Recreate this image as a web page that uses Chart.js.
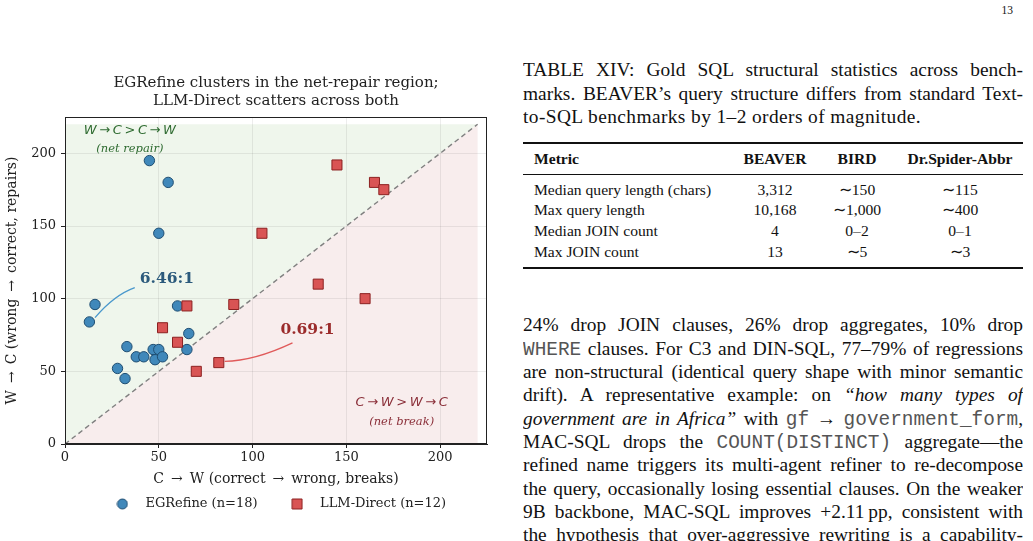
<!DOCTYPE html>
<html>
<head>
<meta charset="utf-8">
<script src="https://cdn.jsdelivr.net/npm/chart.js@4.4.1/dist/chart.umd.min.js"></script>
<style>
  body { margin: 0; width: 1033px; height: 541px; overflow: hidden; background: #fff; position: relative;
         font-family: "Liberation Serif", "Times New Roman", serif; color: #111; }
  #chartBox { position: absolute; left: 0; top: 0; width: 505px; height: 541px; }
  #pg { position: absolute; left: 990px; width: 23px; top: 4px; font-size: 11.5px; text-align: right; }
  .ln { position: absolute; left: 523px; width: 500px; font-size: 19.4px; line-height: 23.4px; height: 23.4px;
        overflow: hidden; text-align: justify; text-align-last: justify; }
  .ln.last { text-align-last: left; letter-spacing: 0.4px; }
  .tt { font-family: "Liberation Mono", monospace; color: #555; }
  .rule { position: absolute; left: 523px; width: 500px; background: #111; }
  .tr { position: absolute; left: 523px; width: 500px; height: 20.6px; line-height: 20.6px; font-size: 15.6px; }
  .tr span { position: absolute; top: 0; }
  .tr .c0 { left: 11px; }
  .tr .c1 { left: 192px; width: 120px; text-align: center; }
  .tr .c2 { left: 274px; width: 120px; text-align: center; }
  .tr .c3 { left: 377px; width: 120px; text-align: center; }
  .tr.hd { font-weight: bold; }
</style>
</head>
<body>
<div id="chartBox"><canvas id="chartScatter" width="505" height="541"></canvas></div>

<div id="pg">13</div>

<!-- table caption -->
<div class="ln" style="top:58.3px">TABLE XIV: Gold SQL structural statistics across bench-</div>
<div class="ln" style="top:81.7px">marks. BEAVER’s query structure differs from standard Text-</div>
<div class="ln last" style="top:105.1px">to-SQL benchmarks by 1–2 orders of magnitude.</div>

<!-- table -->
<div class="rule" style="top:142px;height:1.6px"></div>
<div class="tr hd" style="top:148.7px"><span class="c0">Metric</span><span class="c1">BEAVER</span><span class="c2">BIRD</span><span class="c3">Dr.Spider-Abbr</span></div>
<div class="rule" style="top:173.6px;height:0.9px"></div>
<div class="tr" style="top:179.7px"><span class="c0">Median query length (chars)</span><span class="c1">3,312</span><span class="c2">∼150</span><span class="c3">∼115</span></div>
<div class="tr" style="top:200.3px"><span class="c0">Max query length</span><span class="c1">10,168</span><span class="c2">∼1,000</span><span class="c3">∼400</span></div>
<div class="tr" style="top:220.9px"><span class="c0">Median JOIN count</span><span class="c1">4</span><span class="c2">0–2</span><span class="c3">0–1</span></div>
<div class="tr" style="top:241.5px"><span class="c0">Max JOIN count</span><span class="c1">13</span><span class="c2">∼5</span><span class="c3">∼3</span></div>
<div class="rule" style="top:267.4px;height:1.6px"></div>

<!-- body text -->
<div class="ln" style="top:313.3px">24% drop JOIN clauses, 26% drop aggregates, 10% drop</div>
<div class="ln" style="top:336.65px"><span class="tt">WHERE</span> clauses. For C3 and DIN-SQL, 77–79% of regressions</div>
<div class="ln" style="top:360px">are non-structural (identical query shape with minor semantic</div>
<div class="ln" style="top:383.35px">drift). A representative example: on <i>“how many types of</i></div>
<div class="ln" style="top:406.7px"><i>government are in Africa”</i> with <span class="tt">gf</span> → <span class="tt">government_form</span>,</div>
<div class="ln" style="top:430.05px">MAC-SQL drops the <span class="tt">COUNT(DISTINCT)</span> aggregate—the</div>
<div class="ln" style="top:453.4px">refined name triggers its multi-agent refiner to re-decompose</div>
<div class="ln" style="top:476.75px">the query, occasionally losing essential clauses. On the weaker</div>
<div class="ln" style="top:500.1px">9B backbone, MAC-SQL improves +2.11&#8201;pp, consistent with</div>
<div class="ln" style="top:523.45px">the hypothesis that over-aggressive rewriting is a capability-</div>

<script>
// ── données ─────────────────────────────────────────────
const xTicks = [0, 50, 100, 150, 200];
const yTicks = [0, 50, 100, 150, 200];
const AXIS_MAX = 225;
const DIAG_MAX = 220;

// EGRefine (n=18) : C→W (breaks), W→C (repairs)
const egrefineX = [49, 45, 55, 50, 16, 13, 60, 66, 33, 38, 42, 47, 50, 48, 52, 65, 28, 32];
const egrefineY = [62, 195, 180, 145, 96, 84, 95, 76, 67, 60, 60, 65, 65, 58, 60, 65, 52, 45];

// LLM-Direct (n=12)
const llmX = [145, 165, 170, 105, 135, 160, 65, 90, 52, 60, 70, 82];
const llmY = [192, 180, 175, 145, 110, 100, 95, 96, 80, 70, 50, 56];

const BLUE = '#4088ba', BLUE_EDGE = '#1f4e72';
const RED = '#d95454', RED_EDGE = '#8c2020';
const SERIF = '"DejaVu Serif", serif';

Chart.defaults.font.family = SERIF;
Chart.defaults.color = '#222';

// ── légende : petits marqueurs dessinés à la main ───────
function markerImage(shape, fill, edge) {
  const c = document.createElement('canvas');
  c.width = 12; c.height = 12;
  const g = c.getContext('2d');
  g.fillStyle = fill; g.strokeStyle = edge; g.lineWidth = 1;
  g.beginPath();
  if (shape === 'circle') g.arc(6, 6, 5, 0, Math.PI * 2);
  else g.rect(1, 1, 10, 10);
  g.fill(); g.stroke();
  return c;
}
const legendMarks = [markerImage('circle', BLUE, BLUE_EDGE), markerImage('rect', RED, RED_EDGE)];

// ── régions, diagonale, annotations ─────────────────────
function poly(ctx, pts, color) {
  ctx.beginPath();
  ctx.moveTo(pts[0][0], pts[0][1]);
  pts.slice(1).forEach(p => ctx.lineTo(p[0], p[1]));
  ctx.closePath();
  ctx.fillStyle = color;
  ctx.fill();
}

const regions = {
  id: 'regions',
  beforeDraw(chart) {
    const { ctx, scales: { x, y } } = chart;
    const p = (a, b) => [x.getPixelForValue(a), y.getPixelForValue(b)];
    ctx.save();
    poly(ctx, [p(0, 0), p(0, DIAG_MAX), p(DIAG_MAX, DIAG_MAX)], '#eff6ec');
    poly(ctx, [p(0, 0), p(DIAG_MAX, 0), p(DIAG_MAX, DIAG_MAX)], '#f8eded');
    ctx.restore();
  },
  beforeDatasetsDraw(chart) {
    const { ctx, scales: { x, y } } = chart;
    ctx.save();
    ctx.strokeStyle = '#808080';
    ctx.lineWidth = 1.4;
    ctx.setLineDash([5, 3.5]);
    ctx.beginPath();
    ctx.moveTo(x.getPixelForValue(0), y.getPixelForValue(0));
    ctx.lineTo(x.getPixelForValue(DIAG_MAX), y.getPixelForValue(DIAG_MAX));
    ctx.stroke();
    ctx.restore();
  },
  afterDatasetsDraw(chart) {
    const { ctx, chartArea: a, scales: { x, y } } = chart;
    const px = v => x.getPixelForValue(v), py = v => y.getPixelForValue(v);
    ctx.save();
    ctx.textAlign = 'center';
    ctx.textBaseline = 'middle';

    // étiquettes de région
    ctx.fillStyle = '#2f6b31';
    ctx.font = 'italic 13px "DejaVu Sans"';
    ctx.fillText('W\u2009→\u2009C\u2009>\u2009C\u2009→\u2009W', px(34.6), py(215.9));
    ctx.font = 'italic 11.5px ' + SERIF;
    ctx.fillText('(net repair)', px(34.6), py(202.8));
    ctx.fillStyle = '#8a2e38';
    ctx.font = 'italic 13px "DejaVu Sans"';
    ctx.fillText('C\u2009→\u2009W\u2009>\u2009W\u2009→\u2009C', px(179.5), py(28.6));
    ctx.font = 'italic 11.5px ' + SERIF;
    ctx.fillText('(net break)', px(179.5), py(15.4));

    // ratios avec flèches courbes
    const curve = (s, c, e, color) => {
      ctx.strokeStyle = color;
      ctx.lineWidth = 1.3;
      ctx.beginPath();
      ctx.moveTo(px(s[0]), py(s[1]));
      ctx.quadraticCurveTo(px(c[0]), py(c[1]), px(e[0]), py(e[1]));
      ctx.stroke();
    };
    curve([37.2, 107.6], [26.1, 102.4], [16.0, 86.9], '#4a98cc');
    curve([121.3, 69.6], [101.0, 57.2], [85.1, 56.9], '#e05a5a');

    ctx.font = 'bold 15.5px ' + SERIF;
    ctx.fillStyle = '#2c5a7c';
    ctx.fillText('6.46:1', px(54.3), py(113.8));
    ctx.fillStyle = '#9b2b2b';
    ctx.fillText('0.69:1', px(129.3), py(78.6));

    // cadre complet
    ctx.strokeStyle = '#222';
    ctx.lineWidth = 1;
    ctx.strokeRect(Math.round(a.left) + 0.5, Math.round(a.top) + 0.5,
                   Math.round(a.right - a.left) - 1, Math.round(a.bottom - a.top) - 1);
    ctx.restore();
  }
};

const tickFont = { family: SERIF, size: 13 };
const labelFont = { family: SERIF, size: 14 };
const gridOpts = { color: 'rgba(0,0,0,0.07)', tickColor: '#222', tickLength: 4, lineWidth: 1 };

new Chart(document.getElementById('chartScatter'), {
  type: 'scatter',
  data: {
    datasets: [
      {
        label: 'EGRefine (n=18)',
        data: egrefineX.map((v, i) => ({ x: v, y: egrefineY[i] })),
        pointStyle: 'circle',
        pointRadius: 5.2,
        backgroundColor: BLUE,
        borderColor: BLUE_EDGE,
        borderWidth: 1,
        order: 1
      },
      {
        label: 'LLM-Direct (n=12)',
        data: llmX.map((v, i) => ({ x: v, y: llmY[i] })),
        pointStyle: 'rect',
        pointRadius: 7.1,
        backgroundColor: RED,
        borderColor: RED_EDGE,
        borderWidth: 1,
        order: 0
      }
    ]
  },
  options: {
    responsive: false,
    animation: false,
    devicePixelRatio: 1,
    events: [],
    layout: { padding: { left: 0, right: 18, top: 0, bottom: 20.5 } },
    scales: {
      x: {
        type: 'linear',
        min: 0, max: AXIS_MAX,
        afterBuildTicks: s => { s.ticks = xTicks.map(v => ({ value: v })); },
        afterFit: s => { s.height = 43.5; },
        grid: gridOpts,
        border: { color: '#222', width: 1 },
        ticks: { font: tickFont, color: '#222', padding: 2 },
        title: { display: true, text: 'C\u2002→\u2002W (correct\u2002→\u2002wrong, breaks)', font: labelFont, color: '#222', padding: { top: 0, bottom: 0 } }
      },
      y: {
        type: 'linear',
        min: 0, max: AXIS_MAX,
        afterBuildTicks: s => { s.ticks = yTicks.map(v => ({ value: v })); },
        afterFit: s => { s.width = 65; },
        grid: gridOpts,
        border: { color: '#222', width: 1 },
        ticks: { font: tickFont, color: '#222', padding: 5 },
        title: { display: true, text: 'W\u2002→\u2002C (wrong\u2002→\u2002correct, repairs)', font: labelFont, color: '#222', padding: { top: 4, bottom: 0 } }
      }
    },
    plugins: {
      title: {
        display: true,
        text: ['EGRefine clusters in the net-repair region;', 'LLM-Direct scatters across both'],
        fullSize: false,
        color: '#222',
        font: { family: SERIF, size: 15, weight: 'normal', lineHeight: 1.2 },
        padding: { top: 74, bottom: 7 }
      },
      legend: {
        position: 'bottom',
        fullSize: false,
        labels: {
          usePointStyle: true,
          pointStyleWidth: 33,
          padding: 10,
          color: '#222',
          font: { family: SERIF, size: 13 },
          generateLabels: chart => chart.data.datasets.map((ds, i) => ({
            text: ds.label + (i === 0 ? '\u2003' : ''),
            pointStyle: legendMarks[i],
            fillStyle: ds.backgroundColor,
            strokeStyle: ds.borderColor,
            lineWidth: 0,
            hidden: false,
            datasetIndex: i,
            fontColor: '#222'
          }))
        }
      },
      tooltip: { enabled: false }
    }
  },
  plugins: [regions]
});
</script>
</body>
</html>
